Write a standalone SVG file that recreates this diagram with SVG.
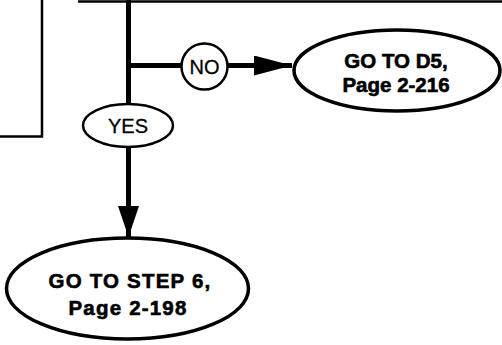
<svg xmlns="http://www.w3.org/2000/svg" width="502" height="345" viewBox="0 0 502 345">
<defs>
<style>
.thin{stroke:#000;stroke-width:2.5;fill:none}
.thick{stroke:#000;stroke-width:5;fill:none}
.node{fill:#fff;stroke:#000;stroke-width:3.5}
.lbl{fill:#fff;stroke:#000;stroke-width:2.5}
.bt{font-family:"Liberation Sans",Arial,sans-serif;font-weight:bold;font-size:20.5px;text-anchor:middle;fill:#000;stroke:#000;stroke-width:0.6}
.rt{font-family:"Liberation Sans",Arial,sans-serif;font-size:20px;text-anchor:middle;fill:#000;stroke:#000;stroke-width:0.3}
</style>
<marker id="ah" viewBox="0 0 10 10" refX="10" refY="5" markerUnits="userSpaceOnUse" markerWidth="38" markerHeight="20" orient="auto" preserveAspectRatio="none">
<path d="M0,0 L10,5 L0,10 Z" fill="#000"/>
</marker>
<marker id="ahv" viewBox="0 0 10 10" refX="10" refY="5" markerUnits="userSpaceOnUse" markerWidth="31" markerHeight="21" orient="auto" preserveAspectRatio="none">
<path d="M0,0 L10,5 L0,10 Z" fill="#000"/>
</marker>
</defs>
<g id="connectors">
<polyline class="thin" points="42,0 42,136.5 0,136.5"/>
<line class="thin" x1="78" y1="1.5" x2="502" y2="1.5"/>
<line class="thick" x1="128.5" y1="0" x2="128.5" y2="104"/>
<line class="thick" x1="128.5" y1="65.5" x2="181" y2="65.5"/>
<line class="thick" x1="228" y1="65.5" x2="292" y2="65.5" marker-end="url(#ah)"/>
<line class="thick" x1="128.5" y1="147" x2="128.5" y2="237" marker-end="url(#ahv)"/>
</g>
<g id="no">
<circle class="lbl" cx="204.5" cy="66.5" r="23"/>
<text class="rt" x="204.5" y="74">NO</text>
</g>
<g id="yes">
<ellipse class="lbl" cx="128" cy="125.5" rx="45" ry="21.5"/>
<text class="rt" x="128" y="133">YES</text>
</g>
<g id="d5">
<ellipse class="node" cx="397" cy="70.5" rx="103" ry="40.5"/>
<text class="bt" x="396" y="68">GO TO D5,</text>
<text class="bt" x="396" y="92">Page 2-216</text>
</g>
<g id="step6">
<ellipse class="node" cx="127.5" cy="288.5" rx="121" ry="50.5"/>
<text class="bt" x="130" y="288" letter-spacing="1.2">GO TO STEP 6,</text>
<text class="bt" x="128" y="315" letter-spacing="1.2">Page 2-198</text>
</g>
</svg>
